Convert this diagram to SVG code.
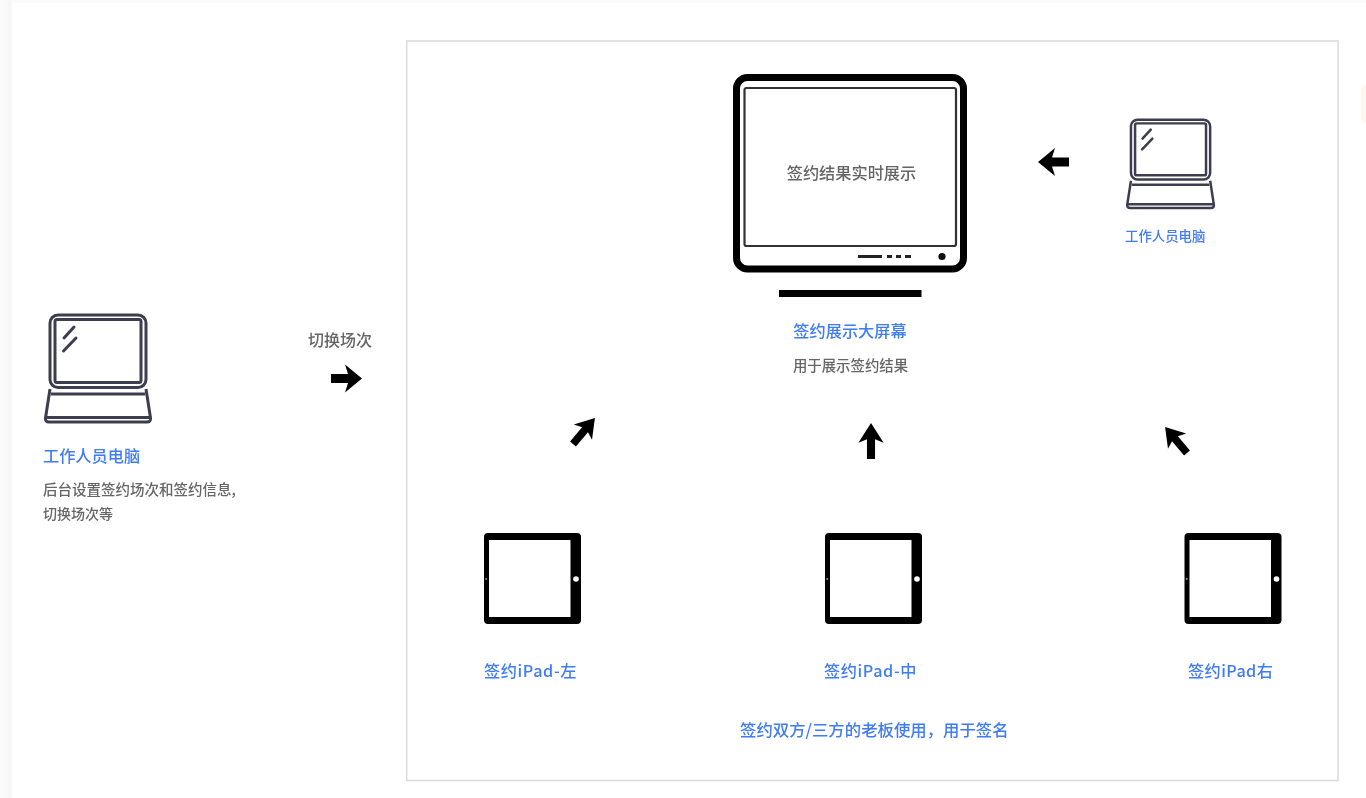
<svg xmlns="http://www.w3.org/2000/svg" width="1366" height="798" viewBox="0 0 1366 798">
<style>
text{font-family:"Noto Sans CJK SC","Liberation Sans",sans-serif}
.b{fill:#3f7bf5;font-weight:500}.g{fill:#666;font-weight:500}
.l{fill:none;stroke:#3c3c50;stroke-width:3}
</style>
<defs>
<linearGradient id="edge" x1="0" x2="1" y1="0" y2="0"><stop offset="0" stop-color="#fbfbfb"/><stop offset="0.8" stop-color="#f6f6f6"/><stop offset="1" stop-color="#ffffff"/></linearGradient>
<filter id="soft" x="-5%" y="-5%" width="110%" height="110%"><feGaussianBlur stdDeviation="0.7"/></filter>
<path id="arrow" d="M0-4.500H17L14-14 31 0 14 14 17 4.500H0Z" fill="#000"/>
<g id="laptop">
<rect class="l" x="6" y="2" width="96" height="72.500" rx="8"/>
<rect class="l" x="11" y="6.500" width="86" height="63" rx="2"/>
<path class="l" stroke-linejoin="round" d="M6 76 1.500 105Q1 109 5 109H103Q107 109 106.500 105L102 76"/>
<path class="l" d="M7 81H101M2 104.500H106"/>
<path class="l" stroke-width="2.400" stroke-linecap="round" d="M20 25 30 14M19.500 38 32 25"/>
</g>
<g id="tablet">
<rect x="484" y="533" width="97" height="91" rx="4" fill="#000"/>
<rect x="489" y="540" width="81.500" height="77" fill="#fff"/>
<circle cx="576" cy="579" r="2.800" fill="#fff"/>
<circle cx="486.200" cy="579" r="1.100" fill="#888"/>
</g>
</defs>
<rect width="1366" height="798" fill="#fff"/>
<g filter="url(#soft)">
<rect x="0" y="0" width="13" height="798" fill="url(#edge)"/>
<rect x="13" y="0" width="1353" height="3" fill="#fbfbfb"/>
<rect x="1361" y="86" width="5" height="36" fill="#fff6ee"/>
<rect x="406.700" y="41" width="931.300" height="739.500" fill="none" stroke="#dcdcdc" stroke-width="1.600"/>

<g id="node-operator-pc">
<use href="#laptop" x="44" y="313"/>
<text class="b" x="43" y="462" font-size="16.200">工作人员电脑</text>
<text class="g" x="43" y="495" font-size="14.500">后台设置签约场次和签约信息,</text>
<text class="g" x="43" y="519" font-size="14">切换场次等</text>
</g>

<g id="node-big-screen">
<rect x="736.500" y="77.500" width="227" height="191.500" rx="11" fill="#fff" stroke="#000" stroke-width="7"/>
<rect x="744.500" y="88" width="211.500" height="158" rx="2" fill="#fff" stroke="#333" stroke-width="2.200"/>
<path d="M858 256.500H882M887 256.500H892M896 256.500H901M905 256.500H911" stroke="#222" stroke-width="3"/>
<circle cx="942" cy="256.500" r="3.600" fill="#111"/>
<rect x="779" y="290" width="142.500" height="7" fill="#000"/>
<text class="g" x="851.500" y="178.500" font-size="16.200" text-anchor="middle">签约结果实时展示</text>
<text class="b" x="850" y="337" font-size="16.200" text-anchor="middle">签约展示大屏幕</text>
<text class="g" x="850.500" y="371" font-size="14.400" text-anchor="middle">用于展示签约结果</text>
</g>

<g id="node-operator-pc-small">
<use href="#laptop" transform="translate(1126 118) scale(.825)"/>
<text class="b" x="1125" y="241" font-size="13.400">工作人员电脑</text>
</g>

<g id="node-ipad-left">
<use href="#tablet"/>
<text class="b" x="484" y="677" font-size="16.200" letter-spacing=".6">签约iPad-左</text>
</g>
<g id="node-ipad-center">
<use href="#tablet" x="341"/>
<text class="b" x="824" y="677" font-size="16.200" letter-spacing=".6">签约iPad-中</text>
</g>
<g id="node-ipad-right">
<use href="#tablet" x="700.500"/>
<text class="b" x="1188" y="677" font-size="16.200" letter-spacing=".4">签约iPad右</text>
</g>
<text id="note" class="b" x="740" y="736" font-size="16.400">签约双方/三方的老板使用，用于签名</text>
<text id="switch-label" class="g" x="308" y="346" font-size="16">切换场次</text>

<g id="connectors">
<use href="#arrow" transform="translate(331 378.500)"/>
<use href="#arrow" transform="translate(1069 162) rotate(180)"/>
<use href="#arrow" transform="translate(871 459) rotate(-90) scale(1.160 .9)"/>
<use href="#arrow" transform="translate(573 444) rotate(-50) scale(1.100 .85)"/>
<use href="#arrow" transform="translate(1187 453) rotate(-130) scale(1.100 .85)"/>
</g>
</g>
</svg>
